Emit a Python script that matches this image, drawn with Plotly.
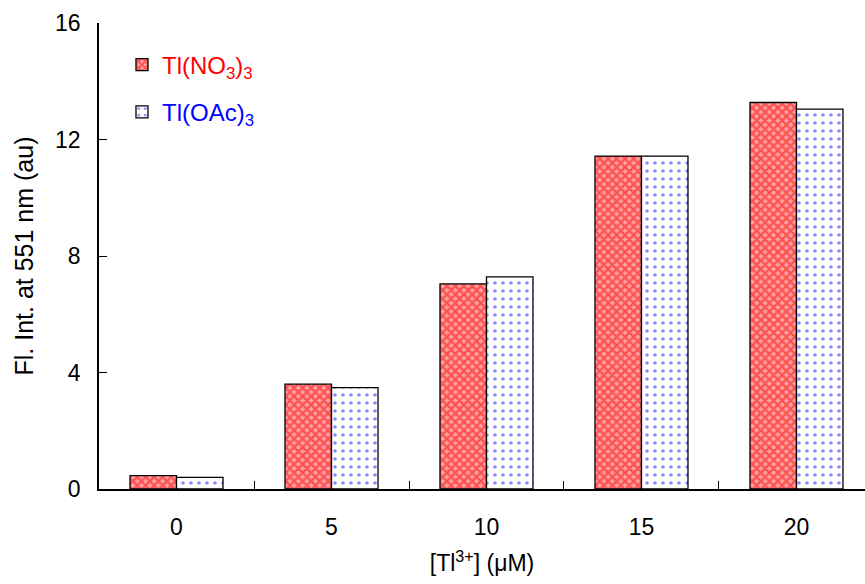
import plotly.graph_objects as go

categories = ["0", "5", "10", "15", "20"]
tl_no3 = [0.46, 3.6, 7.04, 11.43, 13.27]
tl_oac = [0.40, 3.48, 7.28, 11.43, 13.04]
y_ticks = [0, 4, 8, 12, 16]

FONT = "Liberation Sans, Arial, sans-serif"
FS = 23

fig = go.Figure()
fig.add_trace(go.Bar(
    x=categories, y=tl_no3,
    name='<span style="color:#ff0000">Tl(NO<sub>3</sub>)<sub>3</sub></span>',
    marker=dict(color="white", line=dict(color="black", width=1.3),
                pattern=dict(shape="x", fgcolor="#ff0000", bgcolor="#ffa0a0", size=6, solidity=0.6)),
    legendgroup="a",
))
fig.add_trace(go.Bar(
    x=categories, y=tl_oac,
    name='<span style="color:#0000ff">Tl(OAc)<sub>3</sub></span>',
    marker=dict(color="white", line=dict(color="black", width=1.3),
                pattern=dict(shape=".", fgcolor="#1010ff", bgcolor="white", size=8, solidity=0.16)),
    legendgroup="b",
))

fig.update_layout(
    width=865, height=584,
    margin=dict(l=99, r=0, t=23, b=95),
    plot_bgcolor="white", paper_bgcolor="white",
    font=dict(family=FONT, size=FS, color="black"),
    barmode="group", bargap=0.4, bargroupgap=0,
    showlegend=True,
    legend=dict(x=0.03, y=0.958, xanchor="left", yanchor="top",
                font=dict(family=FONT, size=24), bgcolor="rgba(0,0,0,0)",
                traceorder="grouped", tracegroupgap=13, itemwidth=30),
    xaxis=dict(
        type="category", range=[-0.5, 4.442],
        showline=True, linecolor="black", linewidth=1.5,
        ticks="inside", tickson="boundaries", ticklen=8, tickcolor="black",
        ticklabelstandoff=17,
        tickfont=dict(family=FONT, size=FS),
        showgrid=False, zeroline=False,
        title=dict(text="[Tl<sup>3+</sup>] (μM)", font=dict(family=FONT, size=FS), standoff=16),
    ),
    yaxis=dict(
        range=[0, 16], tickvals=y_ticks,
        showline=True, linecolor="black", linewidth=1.5,
        ticks="inside", ticklen=8, tickcolor="black",
        ticklabelstandoff=12,
        tickfont=dict(family=FONT, size=FS),
        showgrid=False, zeroline=False,
        title=dict(text="Fl. Int. at 551 nm (au)", font=dict(family=FONT, size=25), standoff=14),
    ),
)

fig.write_html("out.html")
